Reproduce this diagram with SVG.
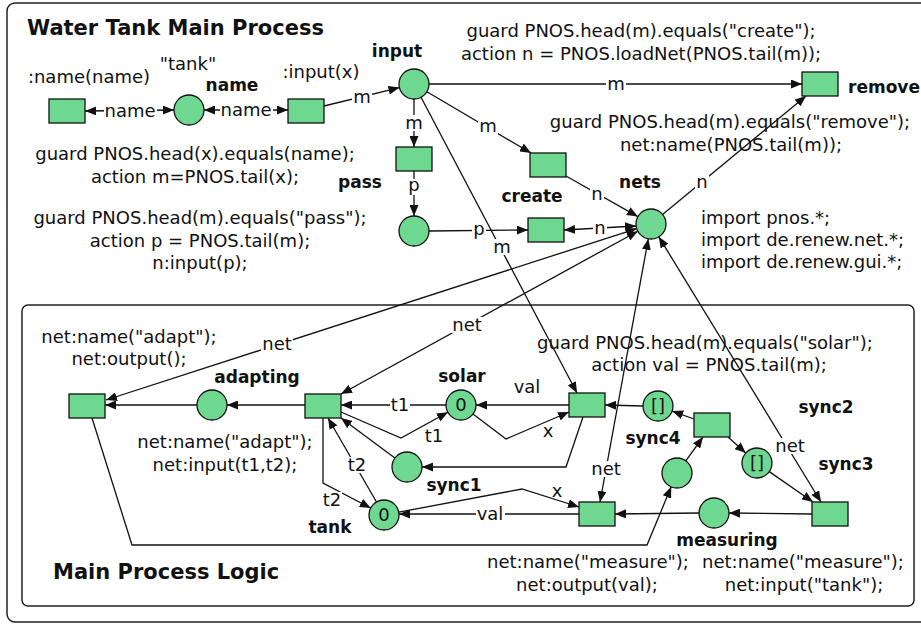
<svg xmlns="http://www.w3.org/2000/svg" width="921" height="624" viewBox="0 0 921 624">
<style>
.t{font-family:"DejaVu Sans","Liberation Sans",sans-serif;font-size:18px;fill:#111}
.b{font-family:"DejaVu Sans","Liberation Sans",sans-serif;font-size:17px;font-weight:bold;fill:#111}
.h{font-family:"DejaVu Sans","Liberation Sans",sans-serif;font-size:21px;font-weight:bold;fill:#111}
.c{text-anchor:middle}
.n{fill:#6fd890;stroke:#111;stroke-width:1.3}
.box{fill:none;stroke:#222;stroke-width:1.5}
.ln{fill:none;stroke:#111;stroke-width:1.3;marker-end:url(#ah)}
.dl{marker-start:url(#ah)}
.bg{fill:#fff}
</style>
<defs>
<marker id="ah" viewBox="0 0 11 9" refX="11" refY="4.5" markerWidth="11" markerHeight="9" markerUnits="userSpaceOnUse" orient="auto-start-reverse"><path d="M0,0 L11,4.5 L0,9 z" fill="#111"/></marker>
</defs>
<rect width="921" height="624" fill="#fff"/>
<g id="frames">
<rect class="box" x="7" y="3" width="940" height="619" rx="8"/>
<rect class="box" x="22" y="305" width="892" height="301" rx="6"/>
<text class="h" x="27" y="35">Water Tank Main Process</text>
<text class="h" x="53" y="579">Main Process Logic</text>
</g>
<g id="declarations">
<text class="t" x="701" y="224">import pnos.*;</text>
<text class="t" x="701" y="246">import de.renew.net.*;</text>
<text class="t" x="701" y="268">import de.renew.gui.*;</text>
</g>
<g id="connectors">
<path class="ln dl" d="M174,110 L85,111"/>
<path class="ln dl" d="M204,110 L288,110"/>
<path class="ln" d="M324,106 L399.4,87.6"/>
<path class="ln" d="M429,84 L802,84"/>
<path class="ln" d="M414,99 L414,147"/>
<path class="ln" d="M414,171 L414,216"/>
<path class="ln" d="M429,231 L528,230"/>
<path class="ln" d="M426.9,91.7 L531,153"/>
<path class="ln" d="M566,176 L637.9,216.6"/>
<path class="ln dl" d="M564,230 L636,226"/>
<path class="ln" d="M662.6,214.4 L806,96"/>
<path class="ln" d="M421,97.3 L577,393"/>
<path class="ln dl" d="M636.7,228.6 L106,400"/>
<path class="ln dl" d="M637.8,231.2 L341,394"/>
<path class="ln dl" d="M648.3,238.8 L600,502"/>
<path class="ln dl" d="M658.8,236.8 L821,502"/>
<path class="ln" d="M305,405 L227,405"/>
<path class="ln" d="M197,405 L105,405"/>
<path class="ln" d="M446,405 L341,405"/>
<path class="ln" d="M341,412 L401,438 L447.9,412.2"/>
<path class="ln" d="M473,414 L506,439 L569,412"/>
<path class="ln" d="M569,405 L476,405"/>
<path class="ln" d="M583,417 L566,467 L422,467"/>
<path class="ln" d="M394.9,458.1 L341,418"/>
<path class="ln" d="M376.5,502 L328,418"/>
<path class="ln" d="M323,418 L323,483 L370.7,508"/>
<path class="ln" d="M579,514 L399,514"/>
<path class="ln" d="M398.7,512.2 L522,489 L579,507"/>
<path class="ln" d="M92,418 L132,545 L647,545 L671.2,486.8"/>
<path class="ln" d="M685.8,460.8 L703,437"/>
<path class="ln" d="M694,419 L672.1,411.1"/>
<path class="ln" d="M728,437 L745.8,453"/>
<path class="ln" d="M643,406 L605,405"/>
<path class="ln" d="M769.3,471.6 L813,502"/>
<path class="ln" d="M812,514 L729,513"/>
<path class="ln" d="M699,513 L615,514"/>
<g id="arc-labels">
<rect class="bg" x="104" y="103" width="53" height="16"/><text class="t c" x="130" y="117">name</text>
<rect class="bg" x="220" y="102" width="53" height="16"/><text class="t c" x="246" y="116">name</text>
<rect class="bg" x="352" y="89" width="20" height="16"/><text class="t c" x="362" y="103">m</text>
<rect class="bg" x="606" y="76" width="20" height="16"/><text class="t c" x="616" y="90">m</text>
<rect class="bg" x="404" y="115" width="20" height="16"/><text class="t c" x="414" y="129">m</text>
<rect class="bg" x="407" y="179" width="14" height="16"/><text class="t c" x="414" y="191">p</text>
<rect class="bg" x="472" y="223" width="14" height="16"/><text class="t c" x="479" y="235">p</text>
<rect class="bg" x="478" y="118" width="20" height="16"/><text class="t c" x="488" y="132">m</text>
<rect class="bg" x="590" y="186" width="14" height="16"/><text class="t c" x="597" y="200">n</text>
<rect class="bg" x="593" y="220" width="14" height="16"/><text class="t c" x="600" y="234">n</text>
<rect class="bg" x="695" y="174" width="14" height="16"/><text class="t c" x="702" y="188">n</text>
<rect class="bg" x="492" y="239" width="20" height="16"/><text class="t c" x="502" y="253">m</text>
<rect class="bg" x="261" y="336" width="32" height="16"/><text class="t c" x="277" y="350">net</text>
<rect class="bg" x="451" y="317" width="32" height="16"/><text class="t c" x="467" y="331">net</text>
<rect class="bg" x="590" y="461" width="32" height="16"/><text class="t c" x="606" y="475">net</text>
<rect class="bg" x="774" y="438" width="32" height="16"/><text class="t c" x="790" y="452">net</text>
<rect class="bg" x="390" y="397" width="20" height="16"/><text class="t c" x="400" y="411">t1</text>
<text class="t c" x="434" y="442">t1</text>
<text class="t c" x="548" y="437">x</text>
<text class="t c" x="527" y="393">val</text>
<rect class="bg" x="347" y="457" width="20" height="16"/><text class="t c" x="357" y="471">t2</text>
<rect class="bg" x="322" y="492" width="20" height="16"/><text class="t c" x="332" y="506">t2</text>
<rect class="bg" x="476" y="506" width="29" height="16"/><text class="t c" x="490" y="520">val</text>
<text class="t c" x="557" y="497">x</text>
</g>
</g>
<g id="t-name-out"><rect class="n" x="49" y="99" width="36" height="24"/><text class="t c" x="89" y="83">:name(name)</text></g>
<g id="p-name"><circle class="n" cx="189" cy="110" r="15"/><text class="t c" x="188" y="70">"tank"</text><text class="b c" x="232" y="91">name</text></g>
<g id="t-input"><rect class="n" x="288" y="99" width="36" height="24"/><text class="t c" x="321" y="78">:input(x)</text><text class="t c" x="195" y="160">guard PNOS.head(x).equals(name);</text><text class="t c" x="195" y="183">action m=PNOS.tail(x);</text></g>
<g id="p-input"><circle class="n" cx="414" cy="84" r="15"/><text class="b c" x="397" y="57">input</text></g>
<g id="t-pass"><rect class="n" x="396" y="147" width="36" height="24"/><text class="b c" x="360" y="188">pass</text></g>
<g id="p-passed"><circle class="n" cx="414" cy="231" r="15"/></g>
<g id="t-pass-input"><rect class="n" x="528" y="218" width="36" height="24"/><text class="t c" x="200" y="224">guard PNOS.head(m).equals("pass");</text><text class="t c" x="200" y="247">action p = PNOS.tail(m);</text><text class="t c" x="200" y="269">n:input(p);</text></g>
<g id="t-create"><rect class="n" x="530" y="153" width="36" height="24"/><text class="b c" x="532" y="202">create</text><text class="t c" x="641" y="37">guard PNOS.head(m).equals("create");</text><text class="t c" x="641" y="60">action n = PNOS.loadNet(PNOS.tail(m));</text></g>
<g id="p-nets"><circle class="n" cx="651" cy="224" r="15"/><text class="b c" x="640" y="188">nets</text></g>
<g id="t-remove"><rect class="n" x="802" y="72" width="36" height="24"/><text class="b" x="848" y="93">remove</text><text class="t c" x="730" y="128">guard PNOS.head(m).equals("remove");</text><text class="t c" x="731" y="151">net:name(PNOS.tail(m));</text></g>
<g id="t-adapt-out"><rect class="n" x="69" y="394" width="36" height="24"/><text class="t c" x="129" y="343">net:name("adapt");</text><text class="t c" x="129" y="365">net:output();</text></g>
<g id="p-adapting"><circle class="n" cx="212" cy="405" r="15"/><text class="b c" x="257" y="383">adapting</text></g>
<g id="t-adapt"><rect class="n" x="305" y="394" width="36" height="24"/><text class="t c" x="225" y="448">net:name("adapt");</text><text class="t c" x="225" y="471">net:input(t1,t2);</text></g>
<g id="p-solar"><circle class="n" cx="461" cy="405" r="15"/><text class="t c" x="461" y="411">0</text><text class="b c" x="462" y="382">solar</text></g>
<g id="t-solar"><rect class="n" x="569" y="393" width="36" height="24"/><text class="t c" x="705" y="349">guard PNOS.head(m).equals("solar");</text><text class="t c" x="709" y="371">action val = PNOS.tail(m);</text><text class="b c" x="826" y="413">sync2</text></g>
<g id="p-sync1"><circle class="n" cx="407" cy="467" r="15"/><text class="b c" x="454" y="491">sync1</text></g>
<g id="p-tank"><circle class="n" cx="384" cy="515" r="15"/><text class="t c" x="384" y="521">0</text><text class="b c" x="330" y="533">tank</text></g>
<g id="p-sync4"><circle class="n" cx="658" cy="406" r="15"/><text class="t c" x="658" y="412">[]</text><text class="b c" x="653" y="444">sync4</text></g>
<g id="t-sync"><rect class="n" x="694" y="413" width="36" height="24"/></g>
<g id="p-sync3"><circle class="n" cx="757" cy="463" r="15"/><text class="t c" x="757" y="469">[]</text><text class="b c" x="846" y="470">sync3</text></g>
<g id="p-start"><circle class="n" cx="677" cy="473" r="15"/></g>
<g id="t-measure-out"><rect class="n" x="579" y="502" width="36" height="24"/><text class="t c" x="588" y="568">net:name("measure");</text><text class="t c" x="587" y="591">net:output(val);</text></g>
<g id="p-measuring"><circle class="n" cx="714" cy="513" r="15"/><text class="b c" x="727" y="546">measuring</text></g>
<g id="t-measure-in"><rect class="n" x="812" y="502" width="36" height="24"/><text class="t c" x="803" y="568">net:name("measure");</text><text class="t c" x="804" y="591">net:input("tank");</text></g>
</svg>
